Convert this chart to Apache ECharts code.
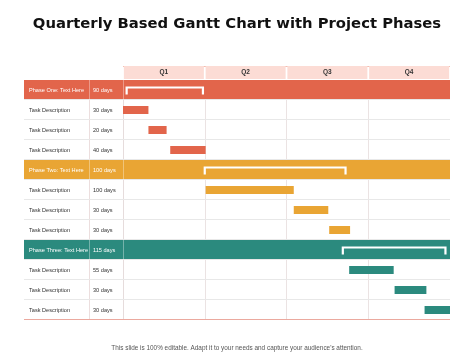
<!DOCTYPE html>
<html><head><meta charset="utf-8">
<script src="https://cdn.jsdelivr.net/npm/echarts@6/dist/echarts.min.js"></script>
<style>html,body{margin:0;padding:0;background:#fff}#c{width:474px;height:355px}</style>
</head><body><div id="c"></div>
<script>
const quarters = ['Q1', 'Q2', 'Q3', 'Q4'];
const rowNames = ['Phase One: Text Here', 'Task Description', 'Task Description', 'Task Description',
  'Phase Two: Text Here', 'Task Description', 'Task Description', 'Task Description',
  'Phase Three: Text Here', 'Task Description', 'Task Description', 'Task Description'];
const rowDays = ['90 days', '30 days', '20 days', '40 days', '100 days', '100 days', '30 days', '30 days',
  '115 days', '55 days', '30 days', '30 days'];
const rowIsPhase = [1, 0, 0, 0, 1, 0, 0, 0, 1, 0, 0, 0];
const rowGroup = [0, 0, 0, 0, 1, 1, 1, 1, 2, 2, 2, 2];
const taskRows = [1, 2, 3, 5, 6, 7, 9, 10, 11];
const taskStart = [0, 28, 52, 91, 188, 227, 249, 299, 332];
const taskEnd = [28, 48, 91, 188, 226, 250, 298, 334, 360];
const phaseRows = [0, 4, 8];
const phaseStart = [4, 90, 242];
const phaseEnd = [88, 245, 355];

const colors = ['#E2654B', '#E9A534', '#2B8A7E'];
const TABLE_W = 99, DAYS_W = 34;

const chart = echarts.init(document.getElementById('c'), null, {renderer: 'canvas'});

const rowData = rowNames.map((n, i) => [0, i]);
const barData = taskRows.map((r, i) => [taskStart[i], taskEnd[i], r, rowGroup[r]]);
const bracketData = phaseRows.map((r, i) => [phaseStart[i], phaseEnd[i], r]);

const labelFont = 'Liberation Sans, Arial, sans-serif';

chart.setOption({
  animation: false,
  title: [
    {text: 'Quarterly Based Gantt Chart with Project Phases', left: 'center', top: 12,
      textStyle: {fontFamily: 'DejaVu Sans', fontWeight: 'bold', fontSize: 14.8, color: '#111'}},
    {text: "This slide is 100% editable. Adapt it to your needs and capture your audience's attention.",
      left: 'center', top: 340, textStyle: {fontFamily: labelFont, fontWeight: 'normal', fontSize: 6.4, color: '#555'}}
  ],
  grid: {left: 123, right: 24, top: 80, bottom: 35},
  xAxis: [
    {type: 'value', min: 0, max: 360, interval: 90, axisLabel: {show: false}, axisTick: {show: false},
      axisLine: {show: false},
      splitLine: {show: true, showMinLine: false, showMaxLine: false, lineStyle: {color: '#ebe3e3', width: 1}}},
    {type: 'category', data: quarters, position: 'top', axisTick: {show: false}, axisLine: {show: false},
      axisLabel: {margin: 1, backgroundColor: '#FCDCD5', width: 80, height: 13, lineHeight: 13, align: 'center',
        fontSize: 6.5, fontWeight: 'bold', color: '#333', fontFamily: labelFont}}
  ],
  yAxis: {
    type: 'category', inverse: true, data: rowNames.map((n, i) => String(i)), z: 10,
    axisLine: {show: false}, axisTick: {show: false}, splitLine: {show: false},
    axisLabel: {
      align: 'left', margin: TABLE_W,
      formatter: (v) => {
        const i = +v;
        return rowIsPhase[i] ? `{pa|${rowNames[i]}}{pb|${rowDays[i]}}` : `{ta|${rowNames[i]}}{tb|${rowDays[i]}}`;
      },
      rich: {
        pa: {width: 60, padding: [0, 0, 0, 5], fontSize: 5.6, color: '#fff', fontFamily: labelFont},
        pb: {width: 30, padding: [0, 0, 0, 4], fontSize: 5.6, color: '#fff', fontFamily: labelFont},
        ta: {width: 60, padding: [0, 0, 0, 5], fontSize: 5.6, color: '#333', fontFamily: labelFont},
        tb: {width: 30, padding: [0, 0, 0, 4], fontSize: 5.6, color: '#333', fontFamily: labelFont}
      }
    }
  },
  graphic: [
    {type: 'line', shape: {x1: 123, y1: 66.5, x2: 450, y2: 66.5}, style: {stroke: '#F2BDB1', lineWidth: 1}}
  ],
  series: [
    {
      type: 'custom', clip: false, z: 2, data: rowData,
      renderItem: (params, api) => {
        const i = api.value(1);
        const cs = params.coordSys;
        const c = api.coord([0, i]);
        const h = api.size([0, 1])[1];
        const top = c[1] - h / 2, bot = c[1] + h / 2;
        const left = cs.x - TABLE_W, right = cs.x + cs.width;
        const kids = [];
        if (rowIsPhase[i]) {
          kids.push({type: 'rect', shape: {x: left, y: top, width: right - left, height: h - 1},
            style: {fill: colors[rowGroup[i]]}});
          kids.push({type: 'line', shape: {x1: cs.x - DAYS_W + 0.5, y1: top, x2: cs.x - DAYS_W + 0.5, y2: bot - 1},
            style: {stroke: 'rgba(255,255,255,0.35)', lineWidth: 1}});
          kids.push({type: 'line', shape: {x1: cs.x + 0.5, y1: top, x2: cs.x + 0.5, y2: bot - 1},
            style: {stroke: 'rgba(255,255,255,0.35)', lineWidth: 1}});
        } else {
          kids.push({type: 'line', shape: {x1: cs.x - DAYS_W + 0.5, y1: top, x2: cs.x - DAYS_W + 0.5, y2: bot},
            style: {stroke: '#ecdede', lineWidth: 1}});
          kids.push({type: 'line', shape: {x1: cs.x + 0.5, y1: top, x2: cs.x + 0.5, y2: bot},
            style: {stroke: '#e6dcdc', lineWidth: 1}});
        }
        const last = i === rowNames.length - 1;
        kids.push({type: 'line', shape: {x1: left, y1: Math.round(bot) - 0.5, x2: right, y2: Math.round(bot) - 0.5},
          style: {stroke: last ? '#EBA99F' : '#e8e8e8', lineWidth: 1}});
        return {type: 'group', children: kids};
      }
    },
    {
      type: 'custom', z: 3, clip: false, data: barData,
      renderItem: (params, api) => {
        const p0 = api.coord([api.value(0), api.value(2)]);
        const p1 = api.coord([api.value(1), api.value(2)]);
        return {type: 'rect', shape: {x: p0[0], y: p0[1] - 4, width: p1[0] - p0[0], height: 8},
          style: {fill: colors[api.value(3)]}};
      }
    },
    {
      type: 'custom', z: 4, clip: false, data: bracketData,
      renderItem: (params, api) => {
        const p0 = api.coord([api.value(0), api.value(2)]);
        const p1 = api.coord([api.value(1), api.value(2)]);
        const y = p0[1] - 2.5;
        return {type: 'polyline', shape: {points: [[p0[0], y + 7], [p0[0], y], [p1[0], y], [p1[0], y + 7]]},
          style: {stroke: '#fff', lineWidth: 2.2, fill: null, lineJoin: 'miter'}};
      }
    }
  ]
});
</script></body></html>
